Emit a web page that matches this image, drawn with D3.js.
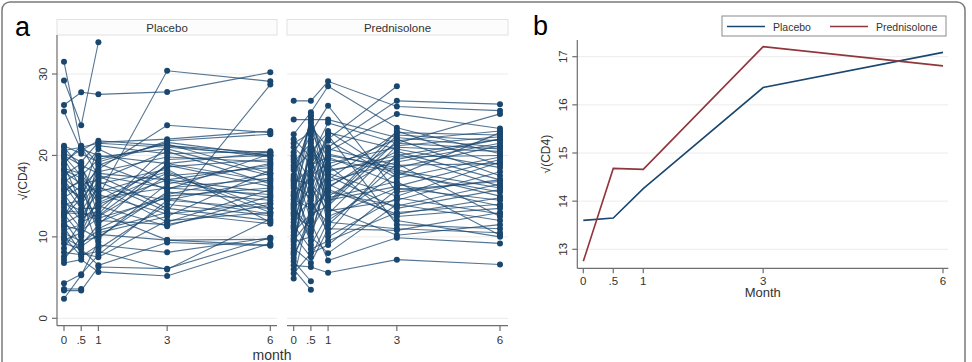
<!DOCTYPE html>
<html>
<head>
<meta charset="utf-8">
<script src="https://cdn.jsdelivr.net/npm/d3@7"></script>
<style>
    body { margin: 0; background: #fff; }
    svg { display: block; font-family: "Liberation Sans", Arial, sans-serif; }
    .grid { stroke: #ececec; stroke-width: 1; }
    .axis-line { stroke: #6e6e6e; stroke-width: 1.2; fill: none; }
    .tick-label { font-size: 11.5px; fill: #333; }
</style>
</head>
<body>
<svg id="chart" width="972" height="362"></svg>
<script>
// Visit times (months)
const months = [0, 0.5, 1, 3, 6];
const monthLabels = ['0', '.5', '1', '3', '6'];
const groups = ['Placebo', 'Prednisolone'];

// Panel a: sqrt(CD4) per subject at each visit, null = missing
const placebo = [
    [31.5, 21.1, 17.5, 16.0, 15.2],
    [29.2, 23.7, 33.9, null, null],
    [26.2, 27.75, 27.5, 27.8, 30.2],
    [25.4, 20.6, 21.8, 21.2, 20.3],
    [21.0, 18.5, 15.0, 30.4, 29.1],
    [20.6, 21.0, 21.5, 21.0, 20.0],
    [20.3, 19.2, 21.6, 22.0, 23.0],
    [19.9, 17.5, 19.5, 21.4, 17.8],
    [19.6, 16.0, 18.3, 23.7, 22.8],
    [19.2, 20.8, 20.0, 19.0, 20.4],
    [18.8, 14.0, 16.8, 13.1, 28.7],
    [18.4, 17.8, 14.5, 18.6, 19.5],
    [18.0, 16.5, 17.0, 20.5, 16.5],
    [17.6, 19.0, 12.5, 17.5, 18.5],
    [17.2, 15.5, 16.0, 14.5, 17.0],
    [16.8, 18.0, 20.8, 16.8, 14.8],
    [16.4, 13.5, 13.5, 19.5, 20.0],
    [16.0, 15.0, 18.8, 21.8, 22.6],
    [15.6, 17.0, 11.0, 15.0, 16.0],
    [15.2, 12.5, 15.5, 18.0, 13.5],
    [14.8, 16.2, 10.5, 12.5, 18.2],
    [14.4, 12.0, 14.0, 17.0, 15.5],
    [14.0, 14.5, 17.5, 13.5, 12.0],
    [13.6, 11.0, 9.8, 16.5, 19.0],
    [13.2, 13.0, 12.0, 11.5, 14.0],
    [12.8, 10.2, 19.8, 20.8, 17.5],
    [12.4, 14.8, 8.5, 14.0, 12.6],
    [12.0, 9.0, 11.5, 19.0, 16.8],
    [11.6, 12.8, 13.0, 9.6, 9.0],
    [11.2, 8.0, 7.5, 12.0, 13.0],
    [10.8, 11.5, 16.5, 18.3, 11.8],
    [10.4, 9.5, 10.0, 15.5, 14.5],
    [10.0, 7.6, 9.0, 8.1, 9.9],
    [9.6, 10.5, 14.8, 16.0, 17.2],
    [9.2, 8.5, 6.5, 9.3, 8.9],
    [8.6, 11.8, 12.8, 21.2, 19.8],
    [8.1, 7.8, 8.2, 6.0, 12.2],
    [7.6, 9.2, 10.8, 13.0, 11.6],
    [7.2, 10.0, 13.8, 11.3, 15.0],
    [6.8, 7.2, 5.7, 5.2, 9.2],
    [4.3, 5.4, 7.8, 14.5, 13.5],
    [3.6, 3.6, null, null, null],
    [3.4, 3.4, 6.3, 6.1, 9.9],
    [2.4, 5.3, 9.4, null, null],
    [20.0, 18.8, 17.8, 17.0, 18.8],
    [19.0, 21.2, 19.0, 15.8, 20.2],
    [18.2, 17.2, 15.2, 12.8, 14.2],
    [17.0, 14.2, 18.0, 19.8, 19.2],
    [15.8, 16.8, 14.2, 17.8, 13.0],
    [14.2, 13.2, 16.2, 11.8, 15.8],
    [12.6, 15.8, 11.8, 15.2, 17.8],
    [11.4, 10.8, 12.3, 14.8, 12.8],
    [9.9, 8.8, 10.3, 9.6, 9.7],
    [13.0, null, 12.6, 18.8, 16.2],
    [16.6, 14.6, 21.2, 20.2, 20.5],
    [21.2, 20.2, 19.2, 21.6, 20.0]
];

const prednisolone = [
    [26.7, 26.7, 29.1, 26.0, 25.5],
    [24.4, 24.4, 24.4, 22.2, 21.0],
    [22.6, 25.3, 28.5, 23.4, 20.2],
    [21.5, 22.8, 26.1, 15.5, 17.0],
    [21.0, 19.0, 22.0, 28.5, null],
    [20.4, 23.5, 21.0, 26.7, 26.3],
    [19.8, 15.0, 20.5, 25.1, 23.3],
    [19.2, 21.5, 18.2, 19.5, 22.0],
    [18.8, 12.0, 16.0, 21.5, 25.1],
    [18.2, 20.5, 22.8, 20.8, 18.5],
    [17.6, 24.0, 19.5, 18.0, 15.0],
    [17.0, 16.5, 14.0, 22.5, 21.8],
    [16.6, 18.5, 21.8, 17.2, 19.8],
    [16.0, 10.5, 17.0, 22.8, 22.5],
    [15.5, 22.0, 12.5, 16.0, 14.5],
    [15.0, 17.5, 19.0, 21.0, 20.5],
    [14.6, 13.5, 15.5, 13.8, 16.5],
    [14.2, 20.0, 11.5, 19.0, 12.5],
    [13.8, 9.5, 18.5, 22.0, 17.5],
    [13.4, 16.0, 13.2, 14.5, 18.0],
    [13.0, 25.0, 16.5, 12.5, 13.5],
    [12.6, 11.2, 20.0, 18.5, 21.2],
    [12.2, 14.5, 10.5, 20.2, 16.2],
    [11.8, 18.0, 14.8, 16.8, 10.2],
    [11.4, 8.5, 9.5, 13.0, 14.0],
    [11.0, 21.0, 17.8, 15.0, 19.2],
    [10.6, 12.8, 13.8, 21.8, 23.0],
    [10.2, 7.5, 12.0, 17.8, 15.5],
    [9.8, 15.5, 22.5, 11.5, 11.0],
    [9.4, 10.0, 8.0, 14.0, 12.0],
    [9.0, 19.5, 15.0, 19.8, 20.0],
    [8.6, 6.8, 11.0, 10.8, 13.0],
    [8.2, 23.0, 18.8, 12.0, 10.0],
    [7.8, 11.8, 7.1, 9.9, 9.2],
    [7.4, 13.0, 16.2, 20.5, 17.0],
    [7.0, 4.55, null, null, null],
    [6.5, 6.3, 5.6, 7.2, 6.6],
    [6.0, 3.5, null, null, null],
    [5.5, 8.0, 9.0, 15.8, 16.8],
    [4.9, 14.0, 20.8, 18.8, 19.0],
    [20.0, 17.0, 23.0, 17.5, 22.8],
    [18.5, 22.5, 13.5, 10.2, 11.5],
    [17.3, 9.0, 12.8, 21.2, 22.3],
    [16.3, 14.8, 17.5, 13.5, 15.8],
    [15.2, 24.8, 14.2, 23.0, 18.8],
    [14.0, 18.8, 19.8, 16.5, 13.8],
    [12.8, 20.8, 16.8, 19.2, 21.5],
    [11.2, 16.8, 10.0, 14.8, 12.8],
    [9.6, 12.2, 20.2, 18.2, 16.0],
    [8.0, 21.8, 15.8, 12.8, 14.8],
    [22.0, 19.8, 24.0, 21.5, 20.8],
    [19.5, 13.8, 11.8, 11.0, 10.5],
    [16.9, 24.4, 18.0, 20.0, 22.0],
    [13.6, 10.8, 14.5, 16.2, 19.5]
];

// Panel b: group means
const placeboMean = [13.6, 13.65, 14.26, 16.36, 17.09];
const prednisoloneMean = [12.75, 14.68, 14.66, 17.21, 16.81];

const ticksA = [0, 10, 20, 30];
const ticksB = [13, 14, 15, 16, 17];

/**
 * Visual configs.
 */
const navy = '#1a476f',
    maroon = '#90353b';

const svg = d3.select('#chart');

// Outer frame
svg.append('rect')
    .attr('x', 2).attr('y', 2)
    .attr('width', 963).attr('height', 400)
    .attr('rx', 8)
    .attr('fill', 'none')
    .attr('stroke', '#7a7a7a')
    .attr('stroke-width', 1.5);

// Panel letters
svg.append('text').attr('x', 15).attr('y', 36)
    .style('font-size', '27px').text('a');
svg.append('text').attr('x', 533).attr('y', 35)
    .style('font-size', '27px').text('b');

/**
 * Panel a: spaghetti plots by group.
 */
const yA = d3.scaleLinear().domain([0, 30]).range([318.3, 74]);

const facets = [
    { name: groups[0], data: placebo, left: 57, right: 277, x0: 64, showY: true },
    { name: groups[1], data: prednisolone, left: 287, right: 508, x0: 293.7, showY: false }
];

facets.forEach(f => {
    const g = svg.append('g').attr('class', 'facet');
    const x = d3.scaleLinear().domain([0, 6]).range([f.x0, f.x0 + 206.3]);

    // Header
    g.append('rect')
        .attr('x', f.left).attr('y', 19.5)
        .attr('width', f.right - f.left).attr('height', 15.5)
        .attr('fill', '#fcfcfc').attr('stroke', '#e2e2e2');
    g.append('text')
        .attr('x', (f.left + f.right) / 2).attr('y', 31.5)
        .attr('text-anchor', 'middle')
        .style('font-size', '11.5px').style('fill', '#333')
        .text(f.name);

    // Gridlines
    g.selectAll('line.grid').data(ticksA).enter().append('line')
        .attr('class', 'grid')
        .attr('x1', f.left).attr('x2', f.right)
        .attr('y1', yA).attr('y2', yA);

    // Subjects
    const line = d3.line()
        .x(d => x(d.m))
        .y(d => yA(d.v));
    const subjects = f.data.map(row => months.map((m, i) => ({ m: m, v: row[i] })).filter(d => d.v !== null));

    g.selectAll('path.subject').data(subjects).enter().append('path')
        .attr('class', 'subject')
        .attr('d', line)
        .attr('fill', 'none')
        .attr('stroke', navy)
        .attr('stroke-opacity', 0.75)
        .attr('stroke-width', 1.1);

    g.selectAll('circle').data(subjects.flat()).enter().append('circle')
        .attr('cx', d => x(d.m))
        .attr('cy', d => yA(d.v))
        .attr('r', 3)
        .attr('fill', navy);

    // x axis
    g.append('line').attr('class', 'axis-line')
        .attr('x1', f.left).attr('x2', f.right)
        .attr('y1', 325.7).attr('y2', 325.7);
    g.selectAll('line.xtick').data(months).enter().append('line')
        .attr('class', 'axis-line')
        .attr('x1', x).attr('x2', x)
        .attr('y1', 325.7).attr('y2', 331);
    g.selectAll('text.xlab').data(months).enter().append('text')
        .attr('class', 'tick-label')
        .attr('x', x).attr('y', 344)
        .attr('text-anchor', 'middle')
        .text((d, i) => monthLabels[i]);

    // y axis
    if (f.showY) {
        g.append('line').attr('class', 'axis-line')
            .attr('x1', f.left).attr('x2', f.left)
            .attr('y1', 35).attr('y2', 325.7);
        g.selectAll('line.ytick').data(ticksA).enter().append('line')
            .attr('class', 'axis-line')
            .attr('x1', f.left - 5).attr('x2', f.left)
            .attr('y1', yA).attr('y2', yA);
        g.selectAll('text.ylab').data(ticksA).enter().append('text')
            .attr('class', 'tick-label')
            .attr('transform', d => 'translate(47,' + yA(d) + ') rotate(-90)')
            .attr('text-anchor', 'middle')
            .text(String);
    }
});

svg.append('text')
    .attr('transform', 'translate(27,181) rotate(-90)')
    .attr('text-anchor', 'middle')
    .style('font-size', '12px').style('fill', '#333')
    .text('√(CD4)');
svg.append('text')
    .attr('x', 272).attr('y', 360)
    .attr('text-anchor', 'middle')
    .style('font-size', '14px').style('fill', '#333')
    .text('month');

/**
 * Panel b: mean profiles.
 */
const xB = d3.scaleLinear().domain([0, 6]).range([583.3, 943]),
    yB = d3.scaleLinear().domain([13, 17]).range([249.3, 56.7]);
const bLeft = 577.3, bRight = 948.3, bTop = 40, bBottom = 268.3;

const gb = svg.append('g').attr('class', 'panel-b');

gb.selectAll('line.grid').data(ticksB).enter().append('line')
    .attr('class', 'grid')
    .attr('x1', bLeft).attr('x2', bRight)
    .attr('y1', yB).attr('y2', yB);

const meanLine = d3.line()
    .x((d, i) => xB(months[i]))
    .y(d => yB(d));

gb.append('path').datum(placeboMean)
    .attr('d', meanLine)
    .attr('fill', 'none').attr('stroke', navy).attr('stroke-width', 1.6);
gb.append('path').datum(prednisoloneMean)
    .attr('d', meanLine)
    .attr('fill', 'none').attr('stroke', maroon).attr('stroke-width', 1.6);

// Axes
gb.append('line').attr('class', 'axis-line')
    .attr('x1', bLeft).attr('x2', bLeft).attr('y1', bTop).attr('y2', bBottom);
gb.append('line').attr('class', 'axis-line')
    .attr('x1', bLeft).attr('x2', bRight).attr('y1', bBottom).attr('y2', bBottom);
gb.selectAll('line.ytick').data(ticksB).enter().append('line')
    .attr('class', 'axis-line')
    .attr('x1', bLeft - 5).attr('x2', bLeft)
    .attr('y1', yB).attr('y2', yB);
gb.selectAll('text.ylab').data(ticksB).enter().append('text')
    .attr('class', 'tick-label')
    .attr('transform', d => 'translate(567,' + yB(d) + ') rotate(-90)')
    .attr('text-anchor', 'middle')
    .text(String);
gb.selectAll('line.xtick').data(months).enter().append('line')
    .attr('class', 'axis-line')
    .attr('x1', xB).attr('x2', xB)
    .attr('y1', bBottom).attr('y2', bBottom + 5);
gb.selectAll('text.xlab').data(months).enter().append('text')
    .attr('class', 'tick-label')
    .attr('x', xB).attr('y', 284.5)
    .attr('text-anchor', 'middle')
    .text((d, i) => monthLabels[i]);

gb.append('text')
    .attr('transform', 'translate(550,' + (bTop + bBottom) / 2 + ') rotate(-90)')
    .attr('text-anchor', 'middle')
    .style('font-size', '12px').style('fill', '#333')
    .text('√(CD4)');
gb.append('text')
    .attr('x', (bLeft + bRight) / 2).attr('y', 297)
    .attr('text-anchor', 'middle')
    .style('font-size', '13px').style('fill', '#333')
    .text('Month');

// Legend
const legend = gb.append('g').attr('class', 'legend');
legend.append('rect')
    .attr('x', 722).attr('y', 16)
    .attr('width', 224).attr('height', 20)
    .attr('fill', '#fff').attr('stroke', '#8a8a8a');
const legendItems = [
    { label: groups[0], color: navy, x: 727 },
    { label: groups[1], color: maroon, x: 830 }
];
legendItems.forEach(d => {
    legend.append('line')
        .attr('x1', d.x).attr('x2', d.x + 38)
        .attr('y1', 26.5).attr('y2', 26.5)
        .attr('stroke', d.color).attr('stroke-width', 1.6);
    legend.append('text')
        .attr('x', d.x + 46).attr('y', 30.5)
        .style('font-size', '10.5px').style('fill', '#333')
        .text(d.label);
});
</script>
</body>
</html>
